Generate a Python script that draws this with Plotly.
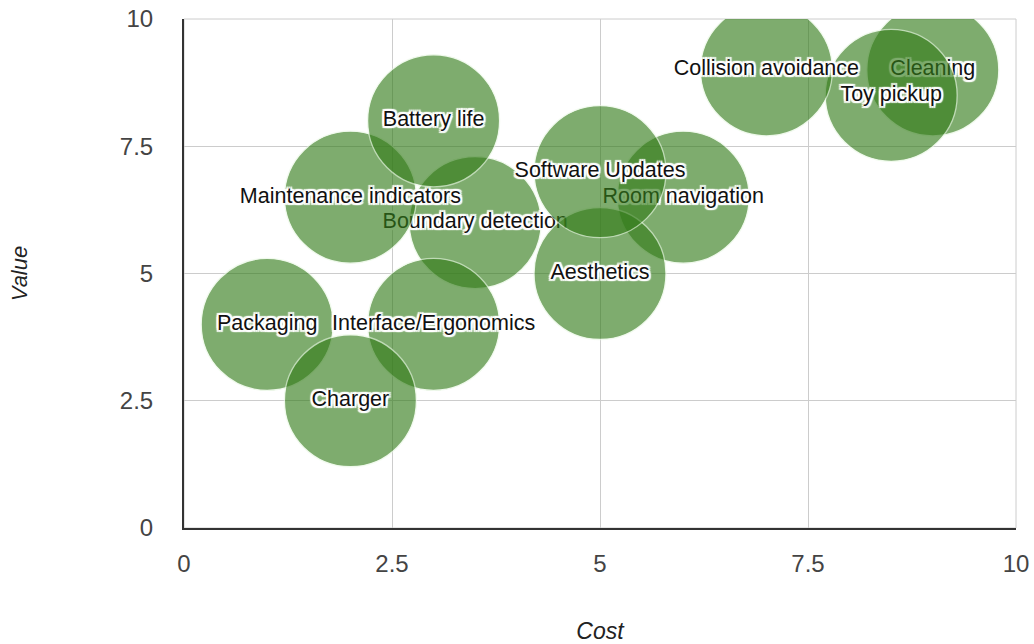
import plotly.graph_objects as go

# Feature bubbles: cost vs. value (draw order matters: later bubbles sit on top)
features = [
    "Cleaning", "Toy pickup", "Collision avoidance", "Room navigation",
    "Boundary detection", "Aesthetics", "Software Updates",
    "Maintenance indicators", "Battery life", "Packaging",
    "Interface/Ergonomics", "Charger",
]
cost = [9, 8.5, 7, 6, 3.5, 5, 5, 2, 3, 1, 3, 2]
value = [9, 8.5, 9, 6.5, 6, 5, 7, 6.5, 8, 4, 4, 2.5]

tick_vals = [0, 2.5, 5, 7.5, 10]
tick_text = ["0", "2.5", "5", "7.5", "10"]

FONT = "Liberation Sans, Arial, sans-serif"
BUBBLE = "rgb(52,124,26)"
HALO = ("-2px -2px 1px #fff, 2px -2px 1px #fff, -2px 2px 1px #fff, "
        "2px 2px 1px #fff, 0 0 3px #fff, 0 -2px 1px #fff, 0 2px 1px #fff, "
        "-2px 0 1px #fff, 2px 0 1px #fff")

fig = go.Figure()
for name, cx, cy in zip(features, cost, value):
    fig.add_trace(go.Scatter(
        x=[cx], y=[cy], mode="markers+text", text=[name],
        textposition="middle center",
        textfont=dict(family=FONT, size=21.5, color="#111", shadow=HALO),
        marker=dict(size=132, color=BUBBLE, opacity=0.63,
                    line=dict(color="rgba(235,250,230,0.95)", width=1.3)),
        hoverinfo="skip", showlegend=False, cliponaxis=True,
    ))

# light frame on the top and right edges of the plot area
fig.add_shape(type="rect", xref="paper", yref="paper", x0=0, y0=0, x1=1, y1=1,
              line=dict(color="#cccccc", width=1), layer="below")

fig.update_layout(
    width=1034, height=644,
    margin=dict(l=184, r=18, t=19, b=116),
    paper_bgcolor="white", plot_bgcolor="white",
    font=dict(family=FONT),
    xaxis=dict(
        range=[0, 10], tickvals=tick_vals, ticktext=tick_text,
        automargin=False,
        showgrid=True, gridcolor="#cccccc", gridwidth=1, zeroline=False,
        showline=True, linecolor="#333333", linewidth=2,
        tickfont=dict(size=24, color="#444444"), ticklabelstandoff=13,
        title=dict(text="<i>Cost</i>", font=dict(size=23, color="#222222"),
                   standoff=52),
    ),
    yaxis=dict(
        range=[0, 10], tickvals=tick_vals, ticktext=tick_text,
        automargin=False,
        showgrid=True, gridcolor="#cccccc", gridwidth=1, zeroline=False,
        showline=True, linecolor="#333333", linewidth=2,
        tickfont=dict(size=24, color="#444444"), ticklabelstandoff=24,
        title=dict(text="<i>Value</i>", font=dict(size=22, color="#222222"),
                   standoff=86),
    ),
)

fig.write_html("out.html")
